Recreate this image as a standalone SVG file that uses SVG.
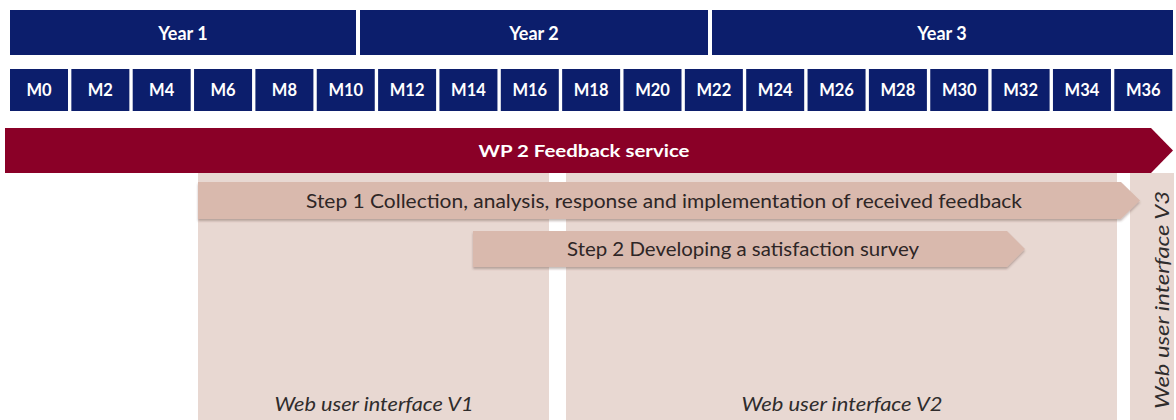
<svg xmlns="http://www.w3.org/2000/svg" width="1176" height="420" viewBox="0 0 1176 420">
  <style>
    .navy { fill: #0c1e6c; }
    .hdr { font-family: Lato, "Open Sans", "Liberation Sans", sans-serif; font-weight: bold; fill: #ffffff; text-anchor: middle; }
    .yr { font-size: 18px; }
    .mo { font-size: 16.5px; }
    .wp { fill: #8a0027; }
    .panel { fill: #e8d8d2; }
    .step { fill: #d9b9ad; }
    .steptxt { font-family: Lato, "Open Sans", "Liberation Sans", sans-serif; font-size: 18.5px; fill: #2e2626; text-anchor: middle; }
    .web { font-family: Lato, "Open Sans", "Liberation Sans", sans-serif; font-style: italic; font-size: 18.5px; fill: #2f2c2c; text-anchor: middle; }
  </style>
  <defs>
    <filter id="shadow" x="-5%" y="-30%" width="110%" height="170%">
      <feDropShadow dx="0" dy="2" stdDeviation="1.3" flood-color="#5a3a30" flood-opacity="0.35"/>
    </filter>
  </defs>

  <rect width="1176" height="420" fill="#ffffff"/>

  <!-- Year header -->
  <g id="years">
    <g id="year1"><rect class="navy" x="10" y="10" width="346" height="45"/><text class="hdr yr" x="183" y="39.5">Year 1</text></g>
    <g id="year2"><rect class="navy" x="360" y="10" width="348" height="45"/><text class="hdr yr" x="534" y="39.5">Year 2</text></g>
    <g id="year3"><rect class="navy" x="712" y="10" width="461" height="45"/><text class="hdr yr" x="942" y="39.5">Year 3</text></g>
  </g>

  <!-- Month header: step 61.35, cell width 58 -->
  <g id="months">
    <g id="m0"><rect class="navy" x="10" y="69" width="58" height="42"/><text class="hdr mo" x="39" y="96">M0</text></g>
    <g id="m2"><rect class="navy" x="71.35" y="69" width="58" height="42"/><text class="hdr mo" x="100.35" y="96">M2</text></g>
    <g id="m4"><rect class="navy" x="132.7" y="69" width="58" height="42"/><text class="hdr mo" x="161.7" y="96">M4</text></g>
    <g id="m6"><rect class="navy" x="194.05" y="69" width="58" height="42"/><text class="hdr mo" x="223.05" y="96">M6</text></g>
    <g id="m8"><rect class="navy" x="255.4" y="69" width="58" height="42"/><text class="hdr mo" x="284.4" y="96">M8</text></g>
    <g id="m10"><rect class="navy" x="316.75" y="69" width="58" height="42"/><text class="hdr mo" x="345.75" y="96">M10</text></g>
    <g id="m12"><rect class="navy" x="378.1" y="69" width="58" height="42"/><text class="hdr mo" x="407.1" y="96">M12</text></g>
    <g id="m14"><rect class="navy" x="439.45" y="69" width="58" height="42"/><text class="hdr mo" x="468.45" y="96">M14</text></g>
    <g id="m16"><rect class="navy" x="500.8" y="69" width="58" height="42"/><text class="hdr mo" x="529.8" y="96">M16</text></g>
    <g id="m18"><rect class="navy" x="562.15" y="69" width="58" height="42"/><text class="hdr mo" x="591.15" y="96">M18</text></g>
    <g id="m20"><rect class="navy" x="623.5" y="69" width="58" height="42"/><text class="hdr mo" x="652.5" y="96">M20</text></g>
    <g id="m22"><rect class="navy" x="684.85" y="69" width="58" height="42"/><text class="hdr mo" x="713.85" y="96">M22</text></g>
    <g id="m24"><rect class="navy" x="746.2" y="69" width="58" height="42"/><text class="hdr mo" x="775.2" y="96">M24</text></g>
    <g id="m26"><rect class="navy" x="807.55" y="69" width="58" height="42"/><text class="hdr mo" x="836.55" y="96">M26</text></g>
    <g id="m28"><rect class="navy" x="868.9" y="69" width="58" height="42"/><text class="hdr mo" x="897.9" y="96">M28</text></g>
    <g id="m30"><rect class="navy" x="930.25" y="69" width="58" height="42"/><text class="hdr mo" x="959.25" y="96">M30</text></g>
    <g id="m32"><rect class="navy" x="991.6" y="69" width="58" height="42"/><text class="hdr mo" x="1020.6" y="96">M32</text></g>
    <g id="m34"><rect class="navy" x="1052.95" y="69" width="58" height="42"/><text class="hdr mo" x="1081.95" y="96">M34</text></g>
    <g id="m36"><rect class="navy" x="1114.3" y="69" width="58" height="42"/><text class="hdr mo" x="1143.3" y="96">M36</text></g>
  </g>

  <!-- Web user interface release panels -->
  <g id="panels">
    <g id="v1"><rect class="panel" x="198" y="173" width="351" height="247"/><text class="web" x="374" y="411" textLength="199" lengthAdjust="spacingAndGlyphs">Web user interface V1</text></g>
    <g id="v2"><rect class="panel" x="566" y="173" width="551" height="247"/><text class="web" x="842" y="411" textLength="201" lengthAdjust="spacingAndGlyphs">Web user interface V2</text></g>
    <g id="v3"><rect class="panel" x="1130" y="173" width="44" height="247"/><text class="web" transform="translate(1168.5 300) rotate(-90)" x="0" y="0" textLength="218" lengthAdjust="spacingAndGlyphs">Web user interface V3</text></g>
  </g>

  <!-- Work package bar -->
  <g id="wp2">
    <polygon class="wp" points="5,128 1151,128 1173,150.5 1151,173 5,173"/>
    <text class="hdr" font-size="17.5" x="584" y="156.5" textLength="211" lengthAdjust="spacingAndGlyphs">WP 2 Feedback service</text>
  </g>

  <!-- Task steps -->
  <g id="step1">
    <polygon class="step" filter="url(#shadow)" points="198,182 1121,182 1140,200.5 1121,219 198,219"/>
    <text class="steptxt" x="664" y="207.5" textLength="716" lengthAdjust="spacingAndGlyphs">Step 1 Collection, analysis, response and implementation of received feedback</text>
  </g>
  <g id="step2">
    <polygon class="step" filter="url(#shadow)" points="473,231 1007,231 1025,249 1007,267 473,267"/>
    <text class="steptxt" x="743" y="255.5" textLength="352" lengthAdjust="spacingAndGlyphs">Step 2 Developing a satisfaction survey</text>
  </g>

  <g id="connectors"/>
</svg>
